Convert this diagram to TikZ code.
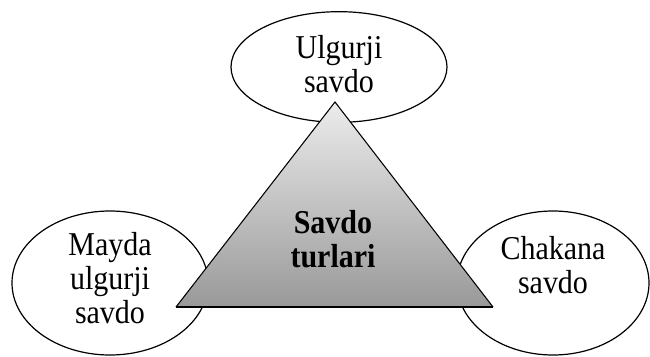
\documentclass[tikz,border=0pt]{standalone}
\usepackage{fontspec}
\setmainfont{Liberation Serif}[FakeStretch=0.9]
\usetikzlibrary{shapes.geometric}

\begin{document}
\begin{tikzpicture}[x=0.75pt,y=-0.75pt,
  font=\fontsize{25}{25.5}\selectfont,
  oval/.style={ellipse, draw=black, fill=white, line width=0.9pt, inner sep=0pt},
  lbl/.style={align=center, inner sep=0pt}]
\useasboundingbox (0,0) rectangle (650,357);

% ellipses
\foreach \name/\x/\y/\w/\h in {
ulgurji/339/67/162/83,
mayda/110/283/147/108,
chakana/553/283/144/108
}{
  \node[oval, minimum width=\w pt, minimum height=\h pt] (\name) at (\x,\y) {};
}
\node[lbl] (ulgurjitxt) at ([yshift=2.5pt]ulgurji.center) {Ulgurji\\savdo};
\node[lbl] (maydatxt) at ([yshift=4pt]mayda.center) {Mayda\\ulgurji\\savdo};
\node[lbl] (chakanatxt) at ([yshift=13.5pt]chakana.center) {Chakana\\savdo};

% triangle
\coordinate (apex) at (335,102);
\coordinate (bl) at (176,307);
\coordinate (br) at (493,307);
\shade[top color=gray!15, middle color=gray!42, bottom color=gray!80]
  (apex) -- (br) -- (bl) -- cycle;
\draw[line width=0.8pt, line join=miter] (bl) -- (apex) -- (br);
\draw[line width=2pt] (bl) -- (br);
\node[lbl, font={\fontsize{25}{25.5}\selectfont\bfseries}] (savdo) at (333,239) {Savdo\\turlari};
\end{tikzpicture}
\end{document}
